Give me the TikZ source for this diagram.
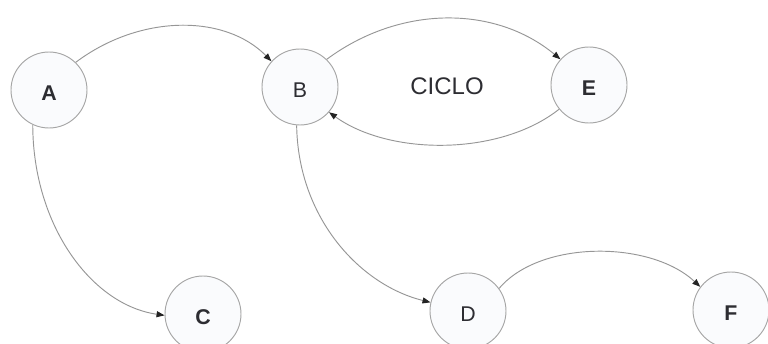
\documentclass[tikz,border=0pt]{standalone}
\usepackage{fontspec}
\setmainfont{Liberation Sans}
\usetikzlibrary{arrows.meta}
\definecolor{ringcol}{RGB}{165,165,165}
\definecolor{ringfill}{RGB}{250,251,253}
\definecolor{edgecol}{RGB}{150,150,150}
\definecolor{tipcol}{RGB}{35,35,35}
\definecolor{txtcol}{RGB}{45,45,50}
\tikzset{
  state/.style={circle, draw=ringcol, fill=ringfill, line width=0.7pt,
    minimum size=57pt, inner sep=0pt, text=txtcol,
    text height=16pt, text depth=0pt, font=\fontsize{16}{18}\selectfont},
  boldlbl/.style={font=\fontsize{16}{18}\selectfont\bfseries},
  conn/.style={draw=edgecol, line width=0.7pt,
    -{Triangle[length=6pt,width=4.5pt,color=tipcol,fill=tipcol]}},
}
\begin{document}
\begin{tikzpicture}[x=0.75pt,y=-0.75pt]
\useasboundingbox (0,0) rectangle (768,343);
\node[state,boldlbl] (A) at (49,90) {A};
\node[state] (B) at (300,87) {B};
\node[state,boldlbl] (E) at (589,85) {E};
\node[state,boldlbl] (C) at (203,314) {C};
\node[state] (D) at (468,311) {D};
\node[state,boldlbl] (F) at (731,310) {F};
\node[text=txtcol, font=\fontsize{18}{20}\selectfont] (ciclo) at (447,86) {CICLO};
\draw[conn] (A.46) .. controls (140,14) and (225,14) .. (B.138);
\draw[conn] (B.46) .. controls (400,5) and (495,5) .. (E.138);
\draw[conn] (E.219) .. controls (500,156) and (390,156) .. (B.319);
\draw[conn] (A.245) .. controls (33,226) and (92,305) .. (C.182);
\draw[conn] (B.265) .. controls (298,218) and (360,285) .. (D.167);
\draw[conn] (D.36) .. controls (540,240) and (650,240) .. (F.143);
\end{tikzpicture}
\end{document}
